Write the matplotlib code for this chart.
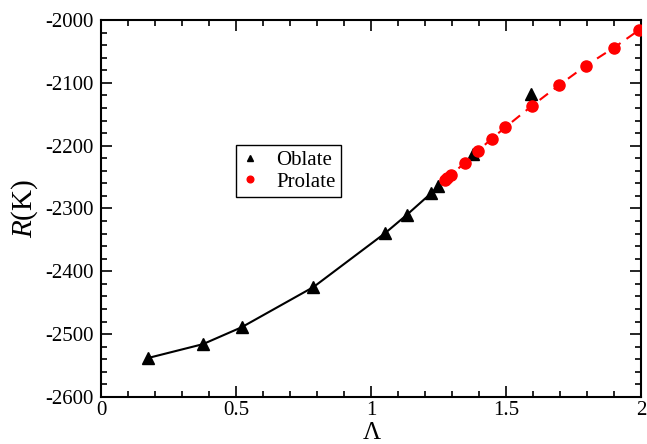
import matplotlib
matplotlib.use("Agg")
import matplotlib.pyplot as plt
from matplotlib.ticker import MultipleLocator

plt.rcParams['font.family'] = ['Liberation Serif', 'DejaVu Serif']
plt.rcParams['mathtext.fontset'] = 'custom'
plt.rcParams['mathtext.it'] = 'Liberation Serif:italic'
plt.rcParams['mathtext.rm'] = 'Liberation Serif'
plt.rcParams['axes.unicode_minus'] = False

# Oblate data (triangles)
oblate_x = [0.174, 0.377, 0.521, 0.787, 1.053, 1.133, 1.222, 1.250, 1.376, 1.594]
oblate_y = [-2538, -2516, -2489, -2425, -2339, -2310, -2276, -2265, -2213, -2118]
# solid curve through the first oblate points
curve_n = 8

# Prolate data (circles)
prolate_x = [1.275, 1.283, 1.296, 1.348, 1.397, 1.447, 1.497, 1.595, 1.696, 1.795, 1.900, 1.993]
prolate_y = [-2255, -2252, -2247, -2227, -2208, -2189, -2171, -2137, -2104, -2073, -2044, -2016]

fig = plt.figure(figsize=(6.47, 4.44), dpi=100)
ax = fig.add_axes([0.1561, 0.1059, 0.8346, 0.8491])

ax.plot(oblate_x[:curve_n], oblate_y[:curve_n], '-', color='black', lw=1.5, zorder=2)
ax.plot(prolate_x, prolate_y, '--', color='#ff0000', lw=1.5, dashes=(5, 3.5), zorder=2)
ax.plot(oblate_x, oblate_y, '^', color='black', ms=8, ls='none', label='Oblate', zorder=3)
ax.plot(prolate_x, prolate_y, 'o', color='#ff0000', ms=8, ls='none', label='Prolate', zorder=3)

ax.set_xlim(0, 2)
ax.set_ylim(-2600, -2000)
ax.xaxis.set_major_locator(MultipleLocator(0.5))
ax.xaxis.set_minor_locator(MultipleLocator(0.1))
ax.yaxis.set_major_locator(MultipleLocator(100))
ax.yaxis.set_minor_locator(MultipleLocator(20))
ax.set_xticks([0, 0.5, 1, 1.5, 2])
ax.set_xticklabels(['0', '0.5', '1', '1.5', '2'])
ax.tick_params(which='both', direction='in', top=True, right=True, labelsize=15, width=1.2)
ax.tick_params(which='major', length=8, pad=5)
ax.tick_params(axis='x', which='major', pad=3)
ax.tick_params(which='minor', length=4)
for s in ax.spines.values():
    s.set_linewidth(1.5)

ax.set_ylabel(r'$R$(K)', fontsize=21, labelpad=4)
ax.set_xlabel('Λ', fontsize=18)
ax.xaxis.label.set_va('bottom')
ax.xaxis.set_label_coords((371.5 - 101) / 540 * 0.8346 + 0.1561, 0.0, transform=fig.transFigure)

leg = ax.legend(loc='upper left', bbox_to_anchor=(0.25, 0.668), fontsize=15,
                frameon=True, fancybox=False, edgecolor='black', framealpha=1,
                handlelength=0.8, handletextpad=0.9, borderpad=0.25,
                labelspacing=0.1, markerscale=0.6, borderaxespad=0)
leg.get_frame().set_linewidth(1.0)

fig.savefig('out.png', dpi=100)
